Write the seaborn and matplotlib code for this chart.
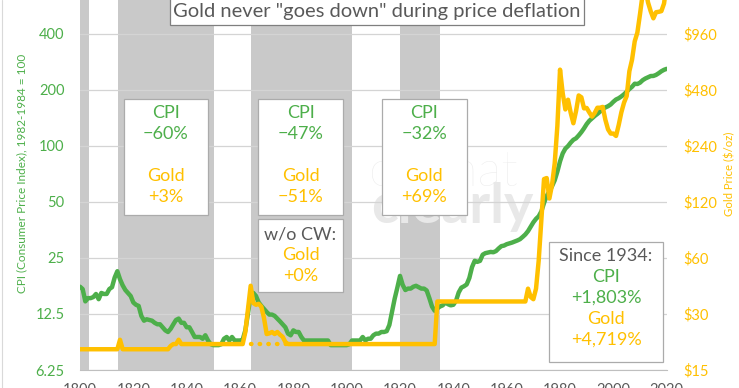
import numpy as np
import pandas as pd
import matplotlib
matplotlib.use("Agg")
import matplotlib.pyplot as plt
from matplotlib.patches import Rectangle
from matplotlib.ticker import NullLocator
import seaborn as sns

# ---- data ----
years = list(range(1800, 2021))

cpi = [
    17.5, 17.0, 14.6, 15.2, 15.2, 15.4, 16.0, 15.0, 16.2, 16.0,   # 1800s
    16.0, 17.0, 17.4, 19.6, 21.2, 19.2, 17.8, 16.8, 16.2, 15.6,   # 1810s
    14.4, 14.0, 13.8, 12.2, 11.5, 11.7, 11.6, 11.5, 11.2, 11.0,   # 1820s
    11.0, 10.6, 10.2, 10.0, 10.4, 11.0, 11.6, 11.8, 11.2, 11.2,   # 1830s
    10.6, 10.6, 10.0, 9.4, 9.4, 9.4, 9.2, 9.6, 9.0, 8.6,          # 1840s
    8.5, 8.5, 8.5, 8.6, 9.2, 9.4, 9.0, 9.4, 9.0, 9.0,             # 1850s
    9.0, 9.1, 10.2, 12.6, 15.8, 16.2, 15.6, 14.4, 13.8, 13.3,     # 1860s
    12.8, 12.4, 12.4, 12.2, 11.8, 11.4, 11.0, 10.6, 9.8, 9.6,     # 1870s
    10.2, 10.0, 10.0, 9.4, 9.0, 9.0, 9.0, 9.0, 9.0, 9.0,          # 1880s
    9.0, 9.0, 9.0, 9.0, 8.5, 8.5, 8.5, 8.5, 8.5, 8.5,             # 1890s
    8.5, 8.6, 9.0, 9.0, 9.0, 9.0, 9.4, 9.0, 9.2, 9.2,             # 1900s
    9.6, 9.8, 9.8, 10.0, 10.0, 10.1, 10.9, 12.8, 15.1, 17.3,      # 1910s
    20.0, 17.9, 16.8, 17.1, 17.1, 17.5, 17.7, 17.4, 17.1, 17.1,   # 1920s
    16.7, 15.2, 13.7, 13.0, 13.4, 13.7, 13.9, 14.4, 14.1, 13.9,   # 1930s
    14.0, 14.7, 16.3, 17.3, 17.6, 18.0, 19.5, 22.3, 24.1, 23.8,   # 1940s
    24.1, 26.0, 26.5, 26.7, 26.9, 26.8, 27.2, 28.1, 28.9, 29.1,   # 1950s
    29.6, 29.9, 30.2, 30.6, 31.0, 31.5, 32.4, 33.4, 34.8, 36.7,   # 1960s
    38.8, 40.5, 41.8, 44.4, 49.3, 53.8, 56.9, 60.6, 65.2, 72.6,   # 1970s
    82.4, 90.9, 96.5, 99.6, 103.9, 107.6, 109.6, 113.6, 118.3, 124.0,  # 1980s
    130.7, 136.2, 140.3, 144.5, 148.2, 152.4, 156.9, 160.5, 163.0, 166.6,  # 1990s
    172.2, 177.1, 179.9, 184.0, 188.9, 195.3, 201.6, 207.3, 215.3, 214.5,  # 2000s
    218.1, 224.9, 229.6, 233.0, 236.7, 237.0, 240.0, 245.1, 251.1, 255.7,  # 2010s
    258.8,
]

gold = [
    19.39, 19.39, 19.39, 19.39, 19.39, 19.39, 19.39, 19.39, 19.39, 19.39,
    19.39, 19.39, 19.39, 19.39, 19.39, 21.8, 19.39, 19.39, 19.39, 19.39,
    19.39, 19.39, 19.39, 19.39, 19.39, 19.39, 19.39, 19.39, 19.39, 19.39,
    19.39, 19.39, 19.39, 19.39, 20.2, 20.67, 20.67, 21.8, 20.67, 20.67,
    20.67, 20.67, 20.67, 20.67, 20.67, 20.67, 20.67, 20.67, 20.67, 20.67,
    20.67, 20.67, 20.67, 20.67, 20.67, 20.67, 20.67, 20.67, 20.67, 20.67,
    20.67, 20.67, 24.0, 32.0, 42.5, 34.3, 33.6, 34.0, 32.8, 28.5,
    23.4, 23.6, 24.0, 23.4, 24.0, 23.2, 22.6, 21.2, 20.67, 20.67,
    20.67, 20.67, 20.67, 20.67, 20.67, 20.67, 20.67, 20.67, 20.67, 20.67,
    20.67, 20.67, 20.67, 20.67, 20.67, 20.67, 20.67, 20.67, 20.67, 20.67,
    20.67, 20.67, 20.67, 20.67, 20.67, 20.67, 20.67, 20.67, 20.67, 20.67,
    20.67, 20.67, 20.67, 20.67, 20.67, 20.67, 20.67, 20.67, 20.67, 20.67,
    20.67, 20.67, 20.67, 20.67, 20.67, 20.67, 20.67, 20.67, 20.67, 20.67,
    20.67, 20.67, 20.67, 20.67, 35.0, 35.0, 35.0, 35.0, 35.0, 35.0,
    35.0, 35.0, 35.0, 35.0, 35.0, 35.0, 35.0, 35.0, 35.0, 35.0,
    35.0, 35.0, 35.0, 35.0, 35.0, 35.0, 35.0, 35.0, 35.0, 35.0,
    35.0, 35.0, 35.0, 35.0, 35.0, 35.0, 35.0, 35.0, 41.0, 37.0,
    36.0, 41.0, 58.0, 97.0, 159.0, 161.0, 125.0, 148.0, 193.0, 306.0,
    615.0, 460.0, 376.0, 424.0, 361.0, 317.0, 368.0, 447.0, 437.0, 381.0,
    383.0, 362.0, 344.0, 360.0, 384.0, 384.0, 388.0, 331.0, 294.0, 279.0,
    279.0, 271.0, 310.0, 363.0, 409.0, 444.0, 603.0, 695.0, 872.0, 972.0,
    1225.0, 1572.0, 1669.0, 1411.0, 1266.0, 1160.0, 1251.0, 1257.0, 1268.0, 1393.0,
    1770.0,
]

# gold "without Civil War" dotted line
nocw_years = [1864, 1878]
nocw_gold = [20.67, 20.67]

# deflation periods (grey bands)
band_start = [1799, 1814.3, 1864.1, 1920]
band_end = [1803.4, 1850.1, 1901.9, 1935]

cpi_ticks = [6.25, 12.5, 25, 50, 100, 200, 400]
cpi_labels = ["6.25", "12.5", "25", "50", "100", "200", "400"]
gold_ticks = [15, 30, 60, 120, 240, 480, 960]
gold_labels = [r"\$15", r"\$30", r"\$60", r"\$120", r"\$240", r"\$480", r"\$960"]
year_ticks = list(range(1800, 2021, 20))

df = pd.DataFrame({"year": years, "cpi": cpi, "gold": gold})

GREEN = "#4DAF4A"
GOLD = "#FFC000"
GREY_TXT = "#595959"
BAND = "#C9C9C9"

sns.set_style("white")
plt.rcParams["font.family"] = ["Lato", "DejaVu Sans"]

W, H = 739, 388
fig = plt.figure(figsize=(W / 100, H / 100), dpi=100)


def fx(x):
    return x / W


def fy(y):
    return 1 - y / H


ax = fig.add_axes([fx(80), fy(370), (666.7 - 80) / W, 370 / H])
ax.set_yscale("log", base=2)
ax.set_xlim(1800, 2020)
ax.set_ylim(6.25, 606)

for s, e in zip(band_start, band_end):
    ax.axvspan(s, e, color=BAND, lw=0, zorder=0.2)

ax.set_axisbelow(True)
ax.yaxis.grid(True, color="#D4D4D4", lw=0.9)
ax.set_yticks(cpi_ticks)
ax.set_yticklabels(cpi_labels)
ax.yaxis.set_minor_locator(NullLocator())
ax.tick_params(axis="y", length=0, pad=11, labelcolor=GREEN, labelsize=10.5)
ax.set_xticks(year_ticks)
ax.tick_params(axis="x", length=4, width=0.8, color="#BFBFBF", pad=5,
               labelcolor=GREY_TXT, labelsize=10.5, direction="out")
for side in ["top", "right", "left"]:
    ax.spines[side].set_visible(False)
ax.spines["bottom"].set_color("#BFBFBF")
ax.spines["bottom"].set_linewidth(0.8)

# faint watermark, placed in figure pixels but kept under the lines
ax.text(fx(443), fy(172), "ofwhat", transform=fig.transFigure,
        color="#EBEBEB", fontsize=36, ha="center", va="center",
        fontweight="light", zorder=0.3)
ax.text(fx(452), fy(207), "clearly", transform=fig.transFigure,
        color="#E8E8E8", fontsize=40, ha="center", va="center",
        fontweight="bold", zorder=0.3)

sns.lineplot(data=df, x="year", y="cpi", ax=ax, color=GREEN, lw=3.2,
             zorder=3)
ax.set_xlabel("")
ax.set_ylabel("")

ax2 = ax.twinx()
ax2.set_yscale("log", base=2)
ax2.set_ylim(15, 1455)
sns.lineplot(data=df, x="year", y="gold", ax=ax2, color=GOLD, lw=3.2,
             zorder=3)
ax2.plot(nocw_years, nocw_gold, color=GOLD, lw=3.2,
         linestyle=(0, (0.1, 1.85)), dash_capstyle="round", zorder=2)
ax2.set_xlim(1800, 2020)
ax2.set_yticks(gold_ticks)
ax2.set_yticklabels(gold_labels)
ax2.yaxis.set_minor_locator(NullLocator())
ax2.tick_params(axis="y", length=0, pad=12, labelcolor=GOLD, labelsize=10.5)
ax2.set_xlabel("")
ax2.set_ylabel("")
for side in ["top", "right", "left", "bottom"]:
    ax2.spines[side].set_visible(False)

# axis titles
fig.text(fx(22), fy(173), "CPI (Consumer Price Index), 1982-1984 = 100",
         rotation=90, color=GREEN, fontsize=8.5, ha="center", va="center")
fig.text(fx(730), fy(174), "Gold Price (\\$/oz)", rotation=90, color=GOLD,
         fontsize=8.2, ha="center", va="center")


def box(x0, y0, x1, y1, edge="#ABABAB", lw=0.9):
    fig.patches.append(Rectangle((fx(x0), fy(y1)), fx(x1 - x0), (y1 - y0) / H,
                                 transform=fig.transFigure, facecolor="white",
                                 edgecolor=edge, lw=lw, zorder=5))


def line(xc, yc, s, color, size=13):
    fig.text(fx(xc), fy(yc), s, color=color, fontsize=size, ha="center",
             va="center", zorder=6)


# title
box(170, -5, 584, 25, edge="#7F7F7F")
line(377, 12, 'Gold never "goes down" during price deflation', GREY_TXT, 14.5)

# deflation boxes
for (x0, x1, c_txt, g_txt) in [(123.7, 208.3, "\u221260%", "+3%"),
                               (258, 343, "\u221247%", "\u221251%"),
                               (381.7, 466.7, "\u221232%", "+69%")]:
    box(x0, 98.7, x1, 215)
    xc = (x0 + x1) / 2
    line(xc, 113, "CPI", GREEN)
    line(xc, 134, c_txt, GREEN)
    line(xc, 176, "Gold", GOLD)
    line(xc, 197, g_txt, GOLD)

box(258, 219, 343, 292)
line(300.5, 235, "w/o CW:", GREY_TXT)
line(300.5, 255, "Gold", GOLD)
line(300.5, 276, "+0%", GOLD)

box(549.3, 242.3, 662.7, 361.7)
line(606, 256, "Since 1934:", GREY_TXT)
line(606, 277, "CPI", GREEN)
line(606, 298, "+1,803%", GREEN)
line(606, 319, "Gold", GOLD)
line(606, 340, "+4,719%", GOLD)

# outer chart border on the left
fig.lines.append(plt.Line2D([fx(2), fx(2)], [0, 1], transform=fig.transFigure,
                            color="#D9D9D9", lw=0.8))

fig.savefig("out.png", dpi=100)
